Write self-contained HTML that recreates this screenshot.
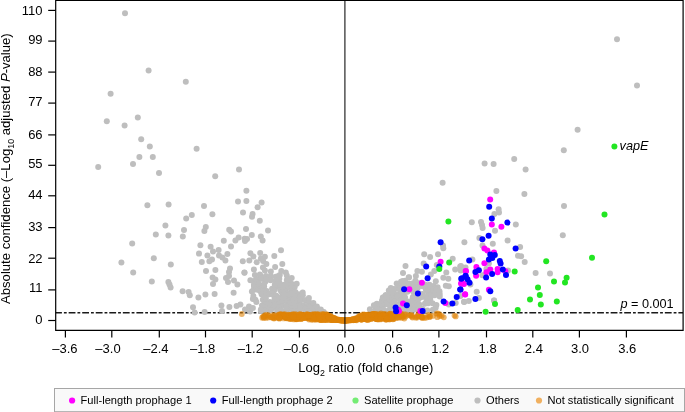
<!DOCTYPE html>
<html><head><meta charset="utf-8"><title>Volcano plot</title>
<style>
html,body{margin:0;padding:0;background:#fff;}
body{width:685px;height:412px;overflow:hidden;position:relative;font-family:"Liberation Sans",Arial,Helvetica,sans-serif;color:#000;}
svg{position:absolute;left:0;top:0;display:block;}
text{font-family:"Liberation Sans",Arial,Helvetica,sans-serif;fill:#000;}
.t{font-size:13px;}
.ax{font-size:13px;}
.an{font-size:12.7px;}
.lg{font-size:11.1px;}
</style></head><body>
<svg width="685" height="412" viewBox="0 0 685 412">
<rect x="0" y="0" width="685" height="412" fill="#fff"/>

<path d="M55.7 312.75 H683" stroke="#1a1a1a" stroke-width="1.6" fill="none" stroke-dasharray="6.8 2 2.8 1.95" stroke-dashoffset="0.6"/>
<g fill="#bebebe"><circle cx="254.4" cy="287.9" r="3.0"/><circle cx="258.7" cy="287.2" r="3.0"/><circle cx="261.9" cy="286.3" r="3.0"/><circle cx="264.1" cy="286.4" r="3.0"/><circle cx="272.1" cy="288.7" r="3.0"/><circle cx="274.8" cy="288.7" r="3.0"/><circle cx="279.3" cy="287.0" r="3.0"/><circle cx="280.7" cy="287.0" r="3.0"/><circle cx="284.2" cy="287.7" r="3.0"/><circle cx="288.0" cy="287.6" r="3.0"/><circle cx="290.5" cy="286.7" r="3.0"/><circle cx="294.7" cy="287.0" r="3.0"/><circle cx="253.5" cy="289.9" r="3.0"/><circle cx="257.5" cy="289.7" r="3.0"/><circle cx="260.3" cy="291.3" r="3.0"/><circle cx="263.0" cy="291.6" r="3.0"/><circle cx="266.6" cy="291.0" r="3.0"/><circle cx="274.1" cy="290.6" r="3.0"/><circle cx="280.3" cy="290.3" r="3.0"/><circle cx="284.5" cy="290.3" r="3.0"/><circle cx="285.5" cy="290.9" r="3.0"/><circle cx="291.2" cy="291.2" r="3.0"/><circle cx="293.0" cy="290.8" r="3.0"/><circle cx="261.6" cy="294.2" r="3.0"/><circle cx="265.1" cy="293.4" r="3.0"/><circle cx="269.3" cy="294.2" r="3.0"/><circle cx="271.6" cy="292.9" r="3.0"/><circle cx="281.9" cy="292.6" r="3.0"/><circle cx="288.0" cy="293.4" r="3.0"/><circle cx="292.1" cy="293.3" r="3.0"/><circle cx="295.4" cy="292.1" r="3.0"/><circle cx="298.9" cy="294.2" r="3.0"/><circle cx="253.4" cy="295.9" r="3.0"/><circle cx="262.4" cy="294.8" r="3.0"/><circle cx="265.8" cy="295.8" r="3.0"/><circle cx="273.7" cy="295.2" r="3.0"/><circle cx="276.4" cy="295.8" r="3.0"/><circle cx="281.0" cy="297.4" r="3.0"/><circle cx="283.3" cy="295.0" r="3.0"/><circle cx="286.2" cy="295.5" r="3.0"/><circle cx="289.1" cy="294.9" r="3.0"/><circle cx="293.3" cy="295.2" r="3.0"/><circle cx="295.3" cy="296.2" r="3.0"/><circle cx="300.8" cy="296.6" r="3.0"/><circle cx="302.8" cy="295.2" r="3.0"/><circle cx="255.4" cy="299.7" r="3.0"/><circle cx="262.8" cy="299.8" r="3.0"/><circle cx="265.8" cy="298.3" r="3.0"/><circle cx="274.5" cy="299.5" r="3.0"/><circle cx="278.3" cy="300.1" r="3.0"/><circle cx="282.9" cy="298.6" r="3.0"/><circle cx="284.3" cy="298.2" r="3.0"/><circle cx="288.6" cy="300.0" r="3.0"/><circle cx="291.5" cy="299.4" r="3.0"/><circle cx="293.8" cy="299.4" r="3.0"/><circle cx="298.9" cy="299.6" r="3.0"/><circle cx="300.7" cy="299.7" r="3.0"/><circle cx="305.6" cy="300.2" r="3.0"/><circle cx="264.6" cy="302.7" r="3.0"/><circle cx="267.7" cy="303.1" r="3.0"/><circle cx="269.8" cy="302.0" r="3.0"/><circle cx="272.2" cy="303.1" r="3.0"/><circle cx="276.8" cy="303.0" r="3.0"/><circle cx="281.0" cy="302.7" r="3.0"/><circle cx="282.7" cy="301.3" r="3.0"/><circle cx="286.9" cy="301.2" r="3.0"/><circle cx="289.0" cy="302.9" r="3.0"/><circle cx="293.1" cy="302.1" r="3.0"/><circle cx="296.3" cy="302.9" r="3.0"/><circle cx="299.9" cy="301.9" r="3.0"/><circle cx="305.6" cy="300.6" r="3.0"/><circle cx="308.9" cy="301.8" r="3.0"/><circle cx="262.0" cy="305.5" r="3.0"/><circle cx="265.4" cy="304.1" r="3.0"/><circle cx="269.2" cy="304.7" r="3.0"/><circle cx="272.5" cy="305.8" r="3.0"/><circle cx="275.4" cy="304.7" r="3.0"/><circle cx="278.9" cy="304.6" r="3.0"/><circle cx="281.6" cy="305.9" r="3.0"/><circle cx="286.0" cy="305.9" r="3.0"/><circle cx="288.5" cy="305.9" r="3.0"/><circle cx="290.7" cy="303.7" r="3.0"/><circle cx="293.8" cy="304.1" r="3.0"/><circle cx="298.6" cy="305.5" r="3.0"/><circle cx="300.6" cy="305.3" r="3.0"/><circle cx="303.9" cy="305.7" r="3.0"/><circle cx="307.4" cy="305.9" r="3.0"/><circle cx="311.4" cy="306.0" r="3.0"/><circle cx="263.1" cy="306.8" r="3.0"/><circle cx="267.4" cy="306.3" r="3.0"/><circle cx="270.0" cy="306.3" r="3.0"/><circle cx="273.8" cy="307.6" r="3.0"/><circle cx="278.0" cy="308.3" r="3.0"/><circle cx="279.0" cy="307.0" r="3.0"/><circle cx="286.1" cy="306.6" r="3.0"/><circle cx="291.0" cy="308.4" r="3.0"/><circle cx="292.3" cy="308.7" r="3.0"/><circle cx="297.1" cy="306.5" r="3.0"/><circle cx="300.3" cy="307.4" r="3.0"/><circle cx="304.3" cy="307.9" r="3.0"/><circle cx="305.4" cy="308.5" r="3.0"/><circle cx="310.7" cy="307.5" r="3.0"/><circle cx="313.2" cy="308.7" r="3.0"/><circle cx="315.4" cy="307.7" r="3.0"/><circle cx="260.9" cy="309.6" r="3.0"/><circle cx="264.4" cy="310.0" r="3.0"/><circle cx="269.2" cy="309.9" r="3.0"/><circle cx="271.0" cy="310.1" r="3.0"/><circle cx="277.1" cy="311.1" r="3.0"/><circle cx="280.9" cy="310.4" r="3.0"/><circle cx="284.0" cy="311.3" r="3.0"/><circle cx="288.3" cy="311.3" r="3.0"/><circle cx="291.6" cy="311.0" r="3.0"/><circle cx="294.5" cy="311.3" r="3.0"/><circle cx="298.6" cy="310.2" r="3.0"/><circle cx="300.3" cy="309.5" r="3.0"/><circle cx="305.4" cy="309.8" r="3.0"/><circle cx="307.0" cy="311.4" r="3.0"/><circle cx="311.8" cy="309.9" r="3.0"/><circle cx="314.2" cy="310.4" r="3.0"/><circle cx="317.9" cy="309.9" r="3.0"/><circle cx="403.6" cy="284.5" r="3.0"/><circle cx="406.9" cy="283.9" r="3.0"/><circle cx="407.7" cy="284.1" r="3.0"/><circle cx="412.3" cy="283.6" r="3.0"/><circle cx="414.3" cy="283.8" r="3.0"/><circle cx="418.6" cy="283.2" r="3.0"/><circle cx="424.8" cy="284.6" r="3.0"/><circle cx="429.4" cy="284.8" r="3.0"/><circle cx="398.4" cy="287.0" r="3.0"/><circle cx="402.0" cy="286.3" r="3.0"/><circle cx="404.4" cy="286.1" r="3.0"/><circle cx="408.3" cy="287.6" r="3.0"/><circle cx="411.4" cy="286.3" r="3.0"/><circle cx="413.9" cy="288.1" r="3.0"/><circle cx="418.0" cy="287.5" r="3.0"/><circle cx="422.6" cy="286.3" r="3.0"/><circle cx="426.1" cy="288.1" r="3.0"/><circle cx="430.7" cy="287.6" r="3.0"/><circle cx="433.7" cy="286.0" r="3.0"/><circle cx="437.6" cy="287.2" r="3.0"/><circle cx="392.9" cy="289.0" r="3.0"/><circle cx="395.1" cy="289.0" r="3.0"/><circle cx="399.6" cy="289.3" r="3.0"/><circle cx="403.6" cy="290.1" r="3.0"/><circle cx="405.6" cy="290.6" r="3.0"/><circle cx="409.3" cy="290.5" r="3.0"/><circle cx="411.3" cy="289.5" r="3.0"/><circle cx="415.0" cy="290.3" r="3.0"/><circle cx="425.9" cy="289.6" r="3.0"/><circle cx="428.7" cy="290.0" r="3.0"/><circle cx="433.1" cy="289.3" r="3.0"/><circle cx="436.5" cy="288.9" r="3.0"/><circle cx="439.5" cy="291.3" r="3.0"/><circle cx="390.2" cy="292.2" r="3.0"/><circle cx="393.3" cy="293.2" r="3.0"/><circle cx="397.5" cy="294.2" r="3.0"/><circle cx="401.5" cy="293.0" r="3.0"/><circle cx="404.5" cy="292.3" r="3.0"/><circle cx="407.3" cy="291.7" r="3.0"/><circle cx="413.8" cy="292.5" r="3.0"/><circle cx="416.8" cy="292.5" r="3.0"/><circle cx="419.2" cy="293.6" r="3.0"/><circle cx="422.8" cy="294.1" r="3.0"/><circle cx="428.1" cy="292.4" r="3.0"/><circle cx="430.1" cy="294.3" r="3.0"/><circle cx="433.3" cy="292.8" r="3.0"/><circle cx="435.8" cy="291.9" r="3.0"/><circle cx="439.7" cy="294.1" r="3.0"/><circle cx="385.2" cy="295.9" r="3.0"/><circle cx="388.8" cy="297.0" r="3.0"/><circle cx="393.3" cy="296.2" r="3.0"/><circle cx="396.9" cy="296.0" r="3.0"/><circle cx="397.9" cy="296.5" r="3.0"/><circle cx="403.0" cy="296.2" r="3.0"/><circle cx="404.5" cy="297.0" r="3.0"/><circle cx="412.9" cy="297.1" r="3.0"/><circle cx="416.0" cy="295.3" r="3.0"/><circle cx="418.6" cy="295.0" r="3.0"/><circle cx="421.4" cy="296.9" r="3.0"/><circle cx="424.7" cy="296.9" r="3.0"/><circle cx="428.6" cy="294.9" r="3.0"/><circle cx="431.0" cy="295.4" r="3.0"/><circle cx="434.7" cy="295.2" r="3.0"/><circle cx="439.7" cy="296.5" r="3.0"/><circle cx="384.0" cy="298.8" r="3.0"/><circle cx="387.1" cy="297.6" r="3.0"/><circle cx="392.0" cy="297.8" r="3.0"/><circle cx="394.4" cy="299.7" r="3.0"/><circle cx="396.8" cy="298.1" r="3.0"/><circle cx="400.6" cy="299.9" r="3.0"/><circle cx="405.0" cy="297.5" r="3.0"/><circle cx="412.6" cy="298.4" r="3.0"/><circle cx="418.0" cy="299.7" r="3.0"/><circle cx="419.8" cy="297.7" r="3.0"/><circle cx="427.7" cy="299.1" r="3.0"/><circle cx="430.3" cy="298.9" r="3.0"/><circle cx="382.0" cy="300.6" r="3.0"/><circle cx="386.2" cy="302.1" r="3.0"/><circle cx="388.0" cy="301.7" r="3.0"/><circle cx="392.2" cy="300.9" r="3.0"/><circle cx="394.5" cy="301.1" r="3.0"/><circle cx="400.2" cy="302.0" r="3.0"/><circle cx="402.3" cy="300.9" r="3.0"/><circle cx="406.8" cy="302.1" r="3.0"/><circle cx="407.7" cy="301.6" r="3.0"/><circle cx="412.0" cy="301.0" r="3.0"/><circle cx="416.7" cy="300.9" r="3.0"/><circle cx="426.2" cy="302.2" r="3.0"/><circle cx="428.0" cy="302.8" r="3.0"/><circle cx="377.4" cy="304.9" r="3.0"/><circle cx="380.0" cy="304.2" r="3.0"/><circle cx="385.4" cy="303.5" r="3.0"/><circle cx="386.4" cy="304.2" r="3.0"/><circle cx="391.8" cy="305.1" r="3.0"/><circle cx="395.2" cy="304.0" r="3.0"/><circle cx="398.5" cy="305.1" r="3.0"/><circle cx="403.7" cy="304.1" r="3.0"/><circle cx="406.4" cy="303.2" r="3.0"/><circle cx="410.2" cy="305.7" r="3.0"/><circle cx="415.1" cy="303.7" r="3.0"/><circle cx="418.0" cy="305.3" r="3.0"/><circle cx="419.3" cy="304.4" r="3.0"/><circle cx="424.9" cy="303.7" r="3.0"/><circle cx="428.1" cy="303.2" r="3.0"/><circle cx="432.5" cy="303.3" r="3.0"/><circle cx="436.4" cy="305.1" r="3.0"/><circle cx="375.5" cy="306.7" r="3.0"/><circle cx="379.6" cy="306.7" r="3.0"/><circle cx="382.1" cy="306.8" r="3.0"/><circle cx="390.2" cy="307.7" r="3.0"/><circle cx="391.2" cy="306.6" r="3.0"/><circle cx="396.9" cy="308.5" r="3.0"/><circle cx="398.4" cy="307.2" r="3.0"/><circle cx="403.5" cy="306.5" r="3.0"/><circle cx="406.3" cy="308.2" r="3.0"/><circle cx="409.2" cy="306.9" r="3.0"/><circle cx="411.9" cy="308.1" r="3.0"/><circle cx="414.8" cy="308.0" r="3.0"/><circle cx="417.7" cy="306.1" r="3.0"/><circle cx="421.7" cy="308.6" r="3.0"/><circle cx="435.7" cy="307.8" r="3.0"/><circle cx="375.2" cy="310.6" r="3.0"/><circle cx="378.5" cy="309.7" r="3.0"/><circle cx="380.6" cy="310.8" r="3.0"/><circle cx="383.5" cy="309.5" r="3.0"/><circle cx="388.5" cy="310.4" r="3.0"/><circle cx="390.5" cy="311.5" r="3.0"/><circle cx="393.4" cy="311.0" r="3.0"/><circle cx="398.7" cy="309.2" r="3.0"/><circle cx="401.5" cy="311.1" r="3.0"/><circle cx="402.8" cy="309.7" r="3.0"/><circle cx="406.5" cy="311.4" r="3.0"/><circle cx="411.7" cy="309.9" r="3.0"/><circle cx="413.8" cy="309.6" r="3.0"/><circle cx="418.4" cy="309.2" r="3.0"/><circle cx="420.8" cy="309.5" r="3.0"/><circle cx="422.9" cy="309.4" r="3.0"/><circle cx="427.4" cy="310.6" r="3.0"/><circle cx="432.9" cy="309.7" r="3.0"/><circle cx="260.3" cy="275.7" r="3.0"/><circle cx="267.6" cy="277.4" r="3.0"/><circle cx="277.9" cy="276.3" r="3.0"/><circle cx="254.5" cy="281.2" r="3.0"/><circle cx="258.0" cy="279.2" r="3.0"/><circle cx="261.1" cy="278.6" r="3.0"/><circle cx="265.4" cy="281.1" r="3.0"/><circle cx="270.3" cy="280.0" r="3.0"/><circle cx="286.8" cy="280.1" r="3.0"/><circle cx="265.1" cy="282.1" r="3.0"/><circle cx="279.6" cy="283.2" r="3.0"/><circle cx="285.1" cy="284.5" r="3.0"/><circle cx="290.0" cy="282.2" r="3.0"/><circle cx="254.0" cy="286.1" r="3.0"/><circle cx="259.4" cy="285.4" r="3.0"/><circle cx="277.6" cy="285.0" r="3.0"/><circle cx="280.8" cy="285.0" r="3.0"/><circle cx="282.5" cy="286.7" r="3.0"/><circle cx="287.6" cy="285.8" r="3.0"/><circle cx="291.0" cy="286.2" r="3.0"/><circle cx="125.0" cy="13.2" r="3.0"/><circle cx="148.6" cy="70.6" r="3.0"/><circle cx="185.8" cy="81.8" r="3.0"/><circle cx="110.6" cy="93.8" r="3.0"/><circle cx="106.8" cy="121.2" r="3.0"/><circle cx="124.6" cy="125.6" r="3.0"/><circle cx="137.8" cy="117.6" r="3.0"/><circle cx="141.2" cy="139.2" r="3.0"/><circle cx="149.8" cy="146.6" r="3.0"/><circle cx="139.4" cy="157.0" r="3.0"/><circle cx="152.8" cy="157.0" r="3.0"/><circle cx="133.0" cy="164.0" r="3.0"/><circle cx="98.2" cy="167.0" r="3.0"/><circle cx="159.0" cy="173.0" r="3.0"/><circle cx="147.4" cy="205.2" r="3.0"/><circle cx="168.6" cy="204.6" r="3.0"/><circle cx="191.8" cy="215.0" r="3.0"/><circle cx="186.2" cy="218.6" r="3.0"/><circle cx="165.4" cy="225.4" r="3.0"/><circle cx="184.0" cy="230.0" r="3.0"/><circle cx="155.8" cy="234.4" r="3.0"/><circle cx="168.4" cy="235.6" r="3.0"/><circle cx="182.8" cy="236.4" r="3.0"/><circle cx="132.2" cy="243.6" r="3.0"/><circle cx="121.4" cy="262.6" r="3.0"/><circle cx="133.2" cy="272.6" r="3.0"/><circle cx="153.8" cy="258.2" r="3.0"/><circle cx="170.8" cy="264.4" r="3.0"/><circle cx="151.8" cy="281.6" r="3.0"/><circle cx="168.4" cy="282.0" r="3.0"/><circle cx="169.5" cy="284.4" r="3.0"/><circle cx="170.6" cy="287.4" r="3.0"/><circle cx="182.6" cy="291.2" r="3.0"/><circle cx="188.6" cy="292.0" r="3.0"/><circle cx="189.8" cy="295.2" r="3.0"/><circle cx="193.0" cy="307.2" r="3.0"/><circle cx="196.6" cy="148.8" r="3.0"/><circle cx="239.0" cy="169.6" r="3.0"/><circle cx="215.2" cy="176.2" r="3.0"/><circle cx="246.4" cy="190.8" r="3.0"/><circle cx="238.0" cy="201.6" r="3.0"/><circle cx="246.4" cy="201.0" r="3.0"/><circle cx="261.6" cy="202.4" r="3.0"/><circle cx="257.6" cy="207.2" r="3.0"/><circle cx="204.0" cy="206.0" r="3.0"/><circle cx="212.4" cy="214.2" r="3.0"/><circle cx="243.0" cy="212.6" r="3.0"/><circle cx="252.6" cy="214.0" r="3.0"/><circle cx="252.0" cy="216.8" r="3.0"/><circle cx="259.8" cy="220.8" r="3.0"/><circle cx="205.8" cy="227.0" r="3.0"/><circle cx="204.4" cy="231.0" r="3.0"/><circle cx="229.2" cy="229.8" r="3.0"/><circle cx="231.0" cy="231.4" r="3.0"/><circle cx="246.0" cy="229.0" r="3.0"/><circle cx="268.0" cy="230.4" r="3.0"/><circle cx="251.8" cy="235.0" r="3.0"/><circle cx="260.8" cy="236.6" r="3.0"/><circle cx="262.6" cy="240.6" r="3.0"/><circle cx="238.6" cy="237.6" r="3.0"/><circle cx="235.4" cy="240.4" r="3.0"/><circle cx="244.6" cy="238.8" r="3.0"/><circle cx="247.0" cy="239.0" r="3.0"/><circle cx="245.0" cy="241.0" r="3.0"/><circle cx="223.8" cy="240.8" r="3.0"/><circle cx="200.4" cy="245.2" r="3.0"/><circle cx="210.6" cy="246.8" r="3.0"/><circle cx="231.0" cy="246.6" r="3.0"/><circle cx="199.0" cy="253.6" r="3.0"/><circle cx="207.4" cy="255.4" r="3.0"/><circle cx="213.0" cy="251.6" r="3.0"/><circle cx="218.6" cy="250.0" r="3.0"/><circle cx="219.0" cy="255.4" r="3.0"/><circle cx="212.0" cy="259.6" r="3.0"/><circle cx="209.4" cy="261.2" r="3.0"/><circle cx="201.8" cy="262.0" r="3.0"/><circle cx="227.4" cy="254.0" r="3.0"/><circle cx="222.4" cy="257.4" r="3.0"/><circle cx="225.4" cy="260.4" r="3.0"/><circle cx="206.0" cy="271.0" r="3.0"/><circle cx="215.4" cy="270.0" r="3.0"/><circle cx="212.6" cy="277.4" r="3.0"/><circle cx="215.4" cy="279.6" r="3.0"/><circle cx="213.0" cy="284.0" r="3.0"/><circle cx="230.0" cy="268.4" r="3.0"/><circle cx="229.0" cy="272.0" r="3.0"/><circle cx="226.0" cy="278.0" r="3.0"/><circle cx="229.0" cy="276.0" r="3.0"/><circle cx="228.0" cy="282.0" r="3.0"/><circle cx="234.0" cy="280.4" r="3.0"/><circle cx="237.4" cy="284.4" r="3.0"/><circle cx="233.6" cy="292.8" r="3.0"/><circle cx="205.4" cy="294.4" r="3.0"/><circle cx="214.6" cy="294.0" r="3.0"/><circle cx="198.4" cy="297.6" r="3.0"/><circle cx="194.6" cy="312.6" r="3.0"/><circle cx="204.6" cy="312.0" r="3.0"/><circle cx="221.4" cy="305.6" r="3.0"/><circle cx="222.0" cy="311.0" r="3.0"/><circle cx="229.4" cy="307.0" r="3.0"/><circle cx="236.6" cy="306.0" r="3.0"/><circle cx="240.4" cy="304.4" r="3.0"/><circle cx="244.4" cy="272.6" r="3.0"/><circle cx="281.0" cy="250.3" r="3.0"/><circle cx="250.4" cy="253.2" r="3.0"/><circle cx="253.4" cy="256.4" r="3.0"/><circle cx="260.2" cy="253.0" r="3.0"/><circle cx="264.9" cy="256.7" r="3.0"/><circle cx="274.3" cy="256.0" r="3.0"/><circle cx="260.9" cy="258.4" r="3.0"/><circle cx="242.8" cy="261.2" r="3.0"/><circle cx="249.3" cy="260.6" r="3.0"/><circle cx="256.7" cy="262.2" r="3.0"/><circle cx="263.1" cy="260.9" r="3.0"/><circle cx="266.4" cy="264.1" r="3.0"/><circle cx="282.3" cy="263.9" r="3.0"/><circle cx="275.1" cy="266.9" r="3.0"/><circle cx="262.9" cy="267.4" r="3.0"/><circle cx="253.9" cy="269.4" r="3.0"/><circle cx="264.9" cy="270.4" r="3.0"/><circle cx="270.8" cy="271.4" r="3.0"/><circle cx="244.5" cy="272.7" r="3.0"/><circle cx="281.3" cy="270.9" r="3.0"/><circle cx="285.8" cy="272.4" r="3.0"/><circle cx="286.8" cy="275.4" r="3.0"/><circle cx="254.9" cy="274.9" r="3.0"/><circle cx="259.9" cy="274.4" r="3.0"/><circle cx="265.9" cy="275.9" r="3.0"/><circle cx="270.8" cy="275.9" r="3.0"/><circle cx="275.8" cy="276.8" r="3.0"/><circle cx="279.8" cy="274.9" r="3.0"/><circle cx="291.7" cy="278.0" r="3.0"/><circle cx="250.4" cy="280.3" r="3.0"/><circle cx="255.9" cy="279.8" r="3.0"/><circle cx="260.9" cy="278.8" r="3.0"/><circle cx="265.9" cy="279.8" r="3.0"/><circle cx="270.8" cy="280.3" r="3.0"/><circle cx="275.8" cy="280.8" r="3.0"/><circle cx="279.3" cy="278.8" r="3.0"/><circle cx="287.8" cy="279.8" r="3.0"/><circle cx="292.7" cy="284.3" r="3.0"/><circle cx="296.7" cy="283.8" r="3.0"/><circle cx="253.9" cy="284.8" r="3.0"/><circle cx="258.9" cy="283.8" r="3.0"/><circle cx="263.9" cy="284.8" r="3.0"/><circle cx="274.8" cy="284.8" r="3.0"/><circle cx="279.8" cy="284.3" r="3.0"/><circle cx="284.8" cy="284.8" r="3.0"/><circle cx="251.9" cy="291.5" r="3.0"/><circle cx="252.9" cy="298.9" r="3.0"/><circle cx="256.4" cy="301.9" r="3.0"/><circle cx="249.0" cy="306.4" r="3.0"/><circle cx="245.0" cy="309.4" r="3.0"/><circle cx="250.0" cy="311.4" r="3.0"/><circle cx="260.9" cy="310.9" r="3.0"/><circle cx="252.9" cy="307.9" r="3.0"/><circle cx="302.7" cy="292.5" r="3.0"/><circle cx="308.9" cy="297.9" r="3.0"/><circle cx="313.4" cy="302.9" r="3.0"/><circle cx="316.9" cy="306.4" r="3.0"/><circle cx="320.8" cy="309.4" r="3.0"/><circle cx="323.8" cy="311.9" r="3.0"/><circle cx="442.6" cy="182.8" r="3.0"/><circle cx="464.4" cy="242.2" r="3.0"/><circle cx="443.0" cy="245.6" r="3.0"/><circle cx="443.3" cy="248.2" r="3.0"/><circle cx="424.2" cy="254.2" r="3.0"/><circle cx="430.1" cy="256.9" r="3.0"/><circle cx="438.0" cy="254.2" r="3.0"/><circle cx="452.7" cy="258.7" r="3.0"/><circle cx="423.7" cy="263.4" r="3.0"/><circle cx="436.8" cy="264.9" r="3.0"/><circle cx="405.5" cy="265.9" r="3.0"/><circle cx="403.0" cy="273.1" r="3.0"/><circle cx="417.4" cy="270.9" r="3.0"/><circle cx="421.9" cy="271.7" r="3.0"/><circle cx="415.9" cy="275.9" r="3.0"/><circle cx="409.0" cy="277.3" r="3.0"/><circle cx="434.3" cy="270.9" r="3.0"/><circle cx="430.8" cy="274.4" r="3.0"/><circle cx="446.3" cy="272.4" r="3.0"/><circle cx="443.3" cy="277.8" r="3.0"/><circle cx="448.3" cy="278.8" r="3.0"/><circle cx="455.2" cy="269.4" r="3.0"/><circle cx="460.2" cy="266.4" r="3.0"/><circle cx="460.7" cy="270.4" r="3.0"/><circle cx="464.2" cy="267.9" r="3.0"/><circle cx="435.8" cy="281.3" r="3.0"/><circle cx="429.8" cy="285.3" r="3.0"/><circle cx="415.4" cy="280.8" r="3.0"/><circle cx="405.0" cy="280.8" r="3.0"/><circle cx="401.0" cy="281.8" r="3.0"/><circle cx="409.0" cy="283.8" r="3.0"/><circle cx="445.8" cy="285.8" r="3.0"/><circle cx="448.8" cy="286.3" r="3.0"/><circle cx="464.2" cy="301.9" r="3.0"/><circle cx="455.7" cy="302.9" r="3.0"/><circle cx="448.8" cy="304.4" r="3.0"/><circle cx="408.7" cy="277.5" r="3.0"/><circle cx="402.7" cy="280.9" r="3.0"/><circle cx="396.7" cy="283.4" r="3.0"/><circle cx="390.8" cy="287.9" r="3.0"/><circle cx="388.8" cy="290.4" r="3.0"/><circle cx="382.8" cy="297.4" r="3.0"/><circle cx="385.8" cy="294.9" r="3.0"/><circle cx="376.8" cy="303.8" r="3.0"/><circle cx="373.9" cy="305.3" r="3.0"/><circle cx="369.9" cy="309.3" r="3.0"/><circle cx="577.6" cy="129.8" r="3.0"/><circle cx="563.8" cy="150.2" r="3.0"/><circle cx="514.2" cy="159.0" r="3.0"/><circle cx="484.6" cy="163.5" r="3.0"/><circle cx="493.6" cy="164.0" r="3.0"/><circle cx="525.6" cy="169.4" r="3.0"/><circle cx="496.4" cy="191.0" r="3.0"/><circle cx="524.4" cy="194.0" r="3.0"/><circle cx="498.6" cy="209.2" r="3.0"/><circle cx="499.0" cy="212.6" r="3.0"/><circle cx="494.4" cy="214.0" r="3.0"/><circle cx="564.0" cy="206.0" r="3.0"/><circle cx="515.8" cy="224.6" r="3.0"/><circle cx="471.8" cy="222.2" r="3.0"/><circle cx="481.0" cy="222.0" r="3.0"/><circle cx="482.0" cy="225.0" r="3.0"/><circle cx="482.6" cy="228.0" r="3.0"/><circle cx="495.0" cy="230.8" r="3.0"/><circle cx="479.4" cy="238.0" r="3.0"/><circle cx="507.6" cy="240.4" r="3.0"/><circle cx="562.8" cy="235.3" r="3.0"/><circle cx="492.8" cy="243.7" r="3.0"/><circle cx="482.5" cy="245.5" r="3.0"/><circle cx="520.1" cy="247.0" r="3.0"/><circle cx="535.6" cy="273.0" r="3.0"/><circle cx="550.0" cy="273.4" r="3.0"/><circle cx="494.0" cy="300.4" r="3.0"/><circle cx="518.0" cy="255.7" r="3.0"/><circle cx="521.1" cy="256.2" r="3.0"/><circle cx="524.7" cy="262.0" r="3.0"/><circle cx="508.0" cy="270.6" r="3.0"/><circle cx="472.4" cy="259.4" r="3.0"/><circle cx="488.9" cy="263.4" r="3.0"/><circle cx="461.0" cy="265.9" r="3.0"/><circle cx="465.5" cy="267.4" r="3.0"/><circle cx="461.0" cy="269.9" r="3.0"/><circle cx="486.4" cy="268.9" r="3.0"/><circle cx="482.4" cy="275.3" r="3.0"/><circle cx="470.4" cy="284.5" r="3.0"/><circle cx="460.5" cy="295.9" r="3.0"/><circle cx="476.7" cy="291.7" r="3.0"/><circle cx="478.9" cy="297.9" r="3.0"/><circle cx="464.0" cy="301.7" r="3.0"/><circle cx="468.8" cy="300.9" r="3.0"/><circle cx="494.1" cy="300.4" r="3.0"/><circle cx="617.0" cy="39.2" r="3.0"/><circle cx="637.0" cy="85.4" r="3.0"/></g>
<g fill="#e08408" fill-opacity="0.6"><circle cx="380.3" cy="316.3" r="2.9"/><circle cx="349.6" cy="320.3" r="2.9"/><circle cx="293.5" cy="314.7" r="2.9"/><circle cx="284.3" cy="314.6" r="2.9"/><circle cx="341.0" cy="320.2" r="2.9"/><circle cx="376.2" cy="318.2" r="2.9"/><circle cx="329.4" cy="315.9" r="2.9"/><circle cx="296.1" cy="316.8" r="2.9"/><circle cx="290.9" cy="319.0" r="2.9"/><circle cx="272.9" cy="317.4" r="2.9"/><circle cx="289.7" cy="315.5" r="2.9"/><circle cx="351.9" cy="319.6" r="2.9"/><circle cx="308.6" cy="315.9" r="2.9"/><circle cx="267.7" cy="314.8" r="2.9"/><circle cx="403.1" cy="316.5" r="2.9"/><circle cx="376.2" cy="319.1" r="2.9"/><circle cx="361.5" cy="319.5" r="2.9"/><circle cx="375.0" cy="318.6" r="2.9"/><circle cx="308.9" cy="317.4" r="2.9"/><circle cx="326.2" cy="316.8" r="2.9"/><circle cx="293.0" cy="314.4" r="2.9"/><circle cx="376.7" cy="317.2" r="2.9"/><circle cx="381.1" cy="313.5" r="2.9"/><circle cx="267.1" cy="316.7" r="2.9"/><circle cx="339.2" cy="320.3" r="2.9"/><circle cx="284.9" cy="317.3" r="2.9"/><circle cx="265.0" cy="315.5" r="2.9"/><circle cx="280.3" cy="315.2" r="2.9"/><circle cx="366.6" cy="314.8" r="2.9"/><circle cx="373.9" cy="314.4" r="2.9"/><circle cx="288.0" cy="317.4" r="2.9"/><circle cx="333.8" cy="317.8" r="2.9"/><circle cx="377.7" cy="315.7" r="2.9"/><circle cx="377.9" cy="319.5" r="2.9"/><circle cx="393.8" cy="319.0" r="2.9"/><circle cx="334.5" cy="318.2" r="2.9"/><circle cx="402.0" cy="316.6" r="2.9"/><circle cx="297.1" cy="316.9" r="2.9"/><circle cx="377.1" cy="314.6" r="2.9"/><circle cx="317.0" cy="314.4" r="2.9"/><circle cx="390.5" cy="318.6" r="2.9"/><circle cx="395.9" cy="317.9" r="2.9"/><circle cx="342.9" cy="320.4" r="2.9"/><circle cx="303.0" cy="316.0" r="2.9"/><circle cx="309.1" cy="316.6" r="2.9"/><circle cx="309.0" cy="319.6" r="2.9"/><circle cx="300.3" cy="314.2" r="2.9"/><circle cx="308.1" cy="318.3" r="2.9"/><circle cx="320.2" cy="316.0" r="2.9"/><circle cx="304.3" cy="317.6" r="2.9"/><circle cx="386.4" cy="319.6" r="2.9"/><circle cx="346.0" cy="320.5" r="2.9"/><circle cx="392.2" cy="315.4" r="2.9"/><circle cx="299.4" cy="314.5" r="2.9"/><circle cx="265.9" cy="317.9" r="2.9"/><circle cx="323.4" cy="314.3" r="2.9"/><circle cx="375.7" cy="318.2" r="2.9"/><circle cx="326.8" cy="319.1" r="2.9"/><circle cx="422.3" cy="317.6" r="2.9"/><circle cx="280.4" cy="314.6" r="2.9"/><circle cx="313.0" cy="314.7" r="2.9"/><circle cx="398.1" cy="315.4" r="2.9"/><circle cx="337.7" cy="319.6" r="2.9"/><circle cx="312.1" cy="316.2" r="2.9"/><circle cx="319.1" cy="317.1" r="2.9"/><circle cx="340.0" cy="320.1" r="2.9"/><circle cx="388.5" cy="314.8" r="2.9"/><circle cx="417.1" cy="317.6" r="2.9"/><circle cx="291.8" cy="315.2" r="2.9"/><circle cx="350.0" cy="320.0" r="2.9"/><circle cx="350.5" cy="320.3" r="2.9"/><circle cx="308.2" cy="315.7" r="2.9"/><circle cx="299.9" cy="316.8" r="2.9"/><circle cx="280.9" cy="314.5" r="2.9"/><circle cx="325.4" cy="316.5" r="2.9"/><circle cx="422.2" cy="317.7" r="2.9"/><circle cx="265.6" cy="315.2" r="2.9"/><circle cx="329.7" cy="316.5" r="2.9"/><circle cx="344.4" cy="320.5" r="2.9"/><circle cx="324.1" cy="315.0" r="2.9"/><circle cx="395.3" cy="316.1" r="2.9"/><circle cx="283.8" cy="318.4" r="2.9"/><circle cx="304.1" cy="315.8" r="2.9"/><circle cx="289.0" cy="315.4" r="2.9"/><circle cx="320.1" cy="315.1" r="2.9"/><circle cx="320.4" cy="319.9" r="2.9"/><circle cx="392.9" cy="319.3" r="2.9"/><circle cx="279.4" cy="318.7" r="2.9"/><circle cx="339.7" cy="320.2" r="2.9"/><circle cx="280.3" cy="315.9" r="2.9"/><circle cx="351.6" cy="319.9" r="2.9"/><circle cx="286.7" cy="316.1" r="2.9"/><circle cx="338.8" cy="320.2" r="2.9"/><circle cx="337.2" cy="320.0" r="2.9"/><circle cx="384.0" cy="316.3" r="2.9"/><circle cx="317.7" cy="314.7" r="2.9"/><circle cx="336.9" cy="320.0" r="2.9"/><circle cx="375.0" cy="316.2" r="2.9"/><circle cx="343.4" cy="320.5" r="2.9"/><circle cx="294.1" cy="318.3" r="2.9"/><circle cx="331.4" cy="320.1" r="2.9"/><circle cx="290.1" cy="319.0" r="2.9"/><circle cx="355.0" cy="319.4" r="2.9"/><circle cx="358.9" cy="318.2" r="2.9"/><circle cx="376.7" cy="316.8" r="2.9"/><circle cx="335.3" cy="318.9" r="2.9"/><circle cx="384.9" cy="318.2" r="2.9"/><circle cx="283.2" cy="315.8" r="2.9"/><circle cx="333.3" cy="318.7" r="2.9"/><circle cx="337.1" cy="319.6" r="2.9"/><circle cx="309.0" cy="318.3" r="2.9"/><circle cx="300.6" cy="316.3" r="2.9"/><circle cx="299.4" cy="318.4" r="2.9"/><circle cx="345.9" cy="320.5" r="2.9"/><circle cx="376.6" cy="318.7" r="2.9"/><circle cx="345.7" cy="320.5" r="2.9"/><circle cx="283.7" cy="315.8" r="2.9"/><circle cx="329.1" cy="317.2" r="2.9"/><circle cx="294.6" cy="318.0" r="2.9"/><circle cx="311.9" cy="315.8" r="2.9"/><circle cx="347.8" cy="320.4" r="2.9"/><circle cx="380.3" cy="319.4" r="2.9"/><circle cx="415.7" cy="317.7" r="2.9"/><circle cx="286.4" cy="317.3" r="2.9"/><circle cx="263.7" cy="317.9" r="2.9"/><circle cx="379.7" cy="314.1" r="2.9"/><circle cx="286.8" cy="318.0" r="2.9"/><circle cx="323.7" cy="319.5" r="2.9"/><circle cx="404.3" cy="318.5" r="2.9"/><circle cx="371.1" cy="317.8" r="2.9"/><circle cx="386.4" cy="318.1" r="2.9"/><circle cx="340.4" cy="320.3" r="2.9"/><circle cx="308.9" cy="314.9" r="2.9"/><circle cx="350.2" cy="320.1" r="2.9"/><circle cx="287.1" cy="316.6" r="2.9"/><circle cx="358.7" cy="316.4" r="2.9"/><circle cx="362.8" cy="319.1" r="2.9"/><circle cx="328.9" cy="320.0" r="2.9"/><circle cx="376.1" cy="317.4" r="2.9"/><circle cx="320.8" cy="317.1" r="2.9"/><circle cx="348.7" cy="320.2" r="2.9"/><circle cx="391.0" cy="315.6" r="2.9"/><circle cx="346.9" cy="320.5" r="2.9"/><circle cx="299.1" cy="316.4" r="2.9"/><circle cx="361.3" cy="316.2" r="2.9"/><circle cx="352.2" cy="319.9" r="2.9"/><circle cx="318.4" cy="317.5" r="2.9"/><circle cx="375.9" cy="313.8" r="2.9"/><circle cx="359.7" cy="317.0" r="2.9"/><circle cx="262.1" cy="317.7" r="2.9"/><circle cx="371.2" cy="318.6" r="2.9"/><circle cx="372.6" cy="318.0" r="2.9"/><circle cx="368.9" cy="314.9" r="2.9"/><circle cx="381.7" cy="318.3" r="2.9"/><circle cx="279.3" cy="314.3" r="2.9"/><circle cx="379.7" cy="318.7" r="2.9"/><circle cx="307.7" cy="316.5" r="2.9"/><circle cx="318.6" cy="317.9" r="2.9"/><circle cx="430.0" cy="316.0" r="2.9"/><circle cx="268.1" cy="317.5" r="2.9"/><circle cx="365.1" cy="316.4" r="2.9"/><circle cx="368.1" cy="319.9" r="2.9"/><circle cx="347.1" cy="320.4" r="2.9"/><circle cx="377.7" cy="314.5" r="2.9"/><circle cx="263.8" cy="316.8" r="2.9"/><circle cx="283.0" cy="314.5" r="2.9"/><circle cx="418.4" cy="313.6" r="2.9"/><circle cx="391.2" cy="318.0" r="2.9"/><circle cx="294.9" cy="318.3" r="2.9"/><circle cx="393.1" cy="317.3" r="2.9"/><circle cx="389.4" cy="319.2" r="2.9"/><circle cx="307.0" cy="318.2" r="2.9"/><circle cx="263.1" cy="316.7" r="2.9"/><circle cx="408.9" cy="315.2" r="2.9"/><circle cx="393.0" cy="318.7" r="2.9"/><circle cx="349.0" cy="320.2" r="2.9"/><circle cx="365.1" cy="318.0" r="2.9"/><circle cx="287.2" cy="315.9" r="2.9"/><circle cx="377.7" cy="316.2" r="2.9"/><circle cx="330.8" cy="320.0" r="2.9"/><circle cx="313.9" cy="319.7" r="2.9"/><circle cx="321.1" cy="319.9" r="2.9"/><circle cx="316.9" cy="319.3" r="2.9"/><circle cx="329.2" cy="318.2" r="2.9"/><circle cx="312.3" cy="315.6" r="2.9"/><circle cx="337.5" cy="320.2" r="2.9"/><circle cx="421.6" cy="317.5" r="2.9"/><circle cx="364.5" cy="319.1" r="2.9"/><circle cx="276.4" cy="317.7" r="2.9"/><circle cx="297.3" cy="319.2" r="2.9"/><circle cx="303.4" cy="317.9" r="2.9"/><circle cx="345.2" cy="320.5" r="2.9"/><circle cx="344.2" cy="320.5" r="2.9"/><circle cx="400.8" cy="316.8" r="2.9"/><circle cx="355.5" cy="319.4" r="2.9"/><circle cx="295.2" cy="315.1" r="2.9"/><circle cx="387.9" cy="317.0" r="2.9"/><circle cx="333.9" cy="318.2" r="2.9"/><circle cx="328.7" cy="318.2" r="2.9"/><circle cx="403.5" cy="316.9" r="2.9"/><circle cx="323.4" cy="314.2" r="2.9"/><circle cx="363.7" cy="318.7" r="2.9"/><circle cx="338.1" cy="320.2" r="2.9"/><circle cx="307.0" cy="315.2" r="2.9"/><circle cx="293.7" cy="314.4" r="2.9"/><circle cx="361.9" cy="316.9" r="2.9"/><circle cx="332.9" cy="320.2" r="2.9"/><circle cx="307.6" cy="317.7" r="2.9"/><circle cx="332.2" cy="317.5" r="2.9"/><circle cx="301.1" cy="315.5" r="2.9"/><circle cx="324.7" cy="319.5" r="2.9"/><circle cx="412.5" cy="317.6" r="2.9"/><circle cx="389.4" cy="319.5" r="2.9"/><circle cx="271.1" cy="317.4" r="2.9"/><circle cx="315.1" cy="318.5" r="2.9"/><circle cx="280.1" cy="315.3" r="2.9"/><circle cx="283.5" cy="314.9" r="2.9"/><circle cx="304.2" cy="317.9" r="2.9"/><circle cx="296.3" cy="319.1" r="2.9"/><circle cx="300.9" cy="318.9" r="2.9"/><circle cx="342.0" cy="320.4" r="2.9"/><circle cx="342.9" cy="320.5" r="2.9"/><circle cx="347.4" cy="320.4" r="2.9"/><circle cx="301.1" cy="318.1" r="2.9"/><circle cx="361.2" cy="319.5" r="2.9"/><circle cx="309.2" cy="315.0" r="2.9"/><circle cx="310.1" cy="316.0" r="2.9"/><circle cx="291.4" cy="315.8" r="2.9"/><circle cx="424.5" cy="318.1" r="2.9"/><circle cx="382.0" cy="316.5" r="2.9"/><circle cx="312.8" cy="315.3" r="2.9"/><circle cx="326.9" cy="320.1" r="2.9"/><circle cx="428.4" cy="314.8" r="2.9"/><circle cx="423.2" cy="316.9" r="2.9"/><circle cx="314.1" cy="314.2" r="2.9"/><circle cx="286.4" cy="318.3" r="2.9"/><circle cx="356.3" cy="318.8" r="2.9"/><circle cx="364.4" cy="314.7" r="2.9"/><circle cx="296.6" cy="314.6" r="2.9"/><circle cx="371.1" cy="315.3" r="2.9"/><circle cx="298.3" cy="318.0" r="2.9"/><circle cx="297.6" cy="318.1" r="2.9"/><circle cx="334.9" cy="318.4" r="2.9"/><circle cx="350.2" cy="320.4" r="2.9"/><circle cx="347.3" cy="320.4" r="2.9"/><circle cx="294.7" cy="316.1" r="2.9"/><circle cx="290.6" cy="317.2" r="2.9"/><circle cx="341.7" cy="320.3" r="2.9"/><circle cx="389.7" cy="318.1" r="2.9"/><circle cx="353.9" cy="319.6" r="2.9"/><circle cx="301.5" cy="314.7" r="2.9"/><circle cx="306.3" cy="314.3" r="2.9"/><circle cx="278.5" cy="315.0" r="2.9"/><circle cx="365.3" cy="318.1" r="2.9"/><circle cx="390.8" cy="314.2" r="2.9"/><circle cx="350.3" cy="320.0" r="2.9"/><circle cx="283.1" cy="314.8" r="2.9"/><circle cx="368.1" cy="314.5" r="2.9"/><circle cx="364.7" cy="314.6" r="2.9"/><circle cx="331.4" cy="319.6" r="2.9"/><circle cx="356.1" cy="320.1" r="2.9"/><circle cx="401.6" cy="314.9" r="2.9"/><circle cx="321.6" cy="319.9" r="2.9"/><circle cx="306.1" cy="317.7" r="2.9"/><circle cx="327.0" cy="314.5" r="2.9"/><circle cx="339.4" cy="319.8" r="2.9"/><circle cx="286.2" cy="318.0" r="2.9"/><circle cx="421.1" cy="316.6" r="2.9"/><circle cx="309.1" cy="315.7" r="2.9"/><circle cx="359.1" cy="318.6" r="2.9"/><circle cx="306.4" cy="316.5" r="2.9"/><circle cx="316.3" cy="314.8" r="2.9"/><circle cx="368.6" cy="316.9" r="2.9"/><circle cx="309.6" cy="317.1" r="2.9"/><circle cx="287.9" cy="314.8" r="2.9"/><circle cx="314.1" cy="315.8" r="2.9"/><circle cx="305.1" cy="317.2" r="2.9"/><circle cx="364.2" cy="314.8" r="2.9"/><circle cx="389.6" cy="316.9" r="2.9"/><circle cx="371.9" cy="315.5" r="2.9"/><circle cx="304.8" cy="317.0" r="2.9"/><circle cx="330.4" cy="315.9" r="2.9"/><circle cx="324.8" cy="315.5" r="2.9"/><circle cx="361.8" cy="315.9" r="2.9"/><circle cx="400.8" cy="313.9" r="2.9"/><circle cx="340.6" cy="320.1" r="2.9"/><circle cx="301.8" cy="318.2" r="2.9"/><circle cx="289.0" cy="315.9" r="2.9"/><circle cx="383.2" cy="318.8" r="2.9"/><circle cx="426.6" cy="317.5" r="2.9"/><circle cx="367.0" cy="319.8" r="2.9"/><circle cx="364.5" cy="318.7" r="2.9"/><circle cx="329.7" cy="317.6" r="2.9"/><circle cx="391.9" cy="315.9" r="2.9"/><circle cx="361.5" cy="316.3" r="2.9"/><circle cx="351.4" cy="319.7" r="2.9"/><circle cx="316.0" cy="317.5" r="2.9"/><circle cx="366.3" cy="319.6" r="2.9"/><circle cx="319.6" cy="319.0" r="2.9"/><circle cx="338.2" cy="319.5" r="2.9"/><circle cx="351.0" cy="320.2" r="2.9"/><circle cx="358.5" cy="318.4" r="2.9"/><circle cx="354.6" cy="319.2" r="2.9"/><circle cx="325.7" cy="316.2" r="2.9"/><circle cx="356.1" cy="318.7" r="2.9"/><circle cx="333.6" cy="319.2" r="2.9"/><circle cx="349.1" cy="320.3" r="2.9"/><circle cx="357.0" cy="317.8" r="2.9"/><circle cx="318.6" cy="319.0" r="2.9"/><circle cx="353.8" cy="320.2" r="2.9"/><circle cx="385.9" cy="319.6" r="2.9"/><circle cx="289.3" cy="316.7" r="2.9"/><circle cx="352.4" cy="319.5" r="2.9"/><circle cx="375.0" cy="315.8" r="2.9"/><circle cx="386.0" cy="315.4" r="2.9"/><circle cx="381.9" cy="316.6" r="2.9"/><circle cx="361.1" cy="318.2" r="2.9"/><circle cx="357.2" cy="318.9" r="2.9"/><circle cx="335.4" cy="318.8" r="2.9"/><circle cx="398.5" cy="314.1" r="2.9"/><circle cx="291.9" cy="318.4" r="2.9"/><circle cx="372.0" cy="313.9" r="2.9"/><circle cx="319.4" cy="316.2" r="2.9"/><circle cx="291.7" cy="314.6" r="2.9"/><circle cx="324.1" cy="316.4" r="2.9"/><circle cx="366.5" cy="316.4" r="2.9"/><circle cx="373.3" cy="313.8" r="2.9"/><circle cx="318.0" cy="318.9" r="2.9"/><circle cx="316.0" cy="319.7" r="2.9"/><circle cx="350.7" cy="319.9" r="2.9"/><circle cx="331.6" cy="317.4" r="2.9"/><circle cx="317.0" cy="316.9" r="2.9"/><circle cx="404.5" cy="314.5" r="2.9"/><circle cx="325.9" cy="320.0" r="2.9"/><circle cx="313.6" cy="314.8" r="2.9"/><circle cx="357.6" cy="318.3" r="2.9"/><circle cx="272.8" cy="317.7" r="2.9"/><circle cx="324.6" cy="315.2" r="2.9"/><circle cx="312.3" cy="314.3" r="2.9"/><circle cx="381.2" cy="314.5" r="2.9"/><circle cx="388.8" cy="315.2" r="2.9"/><circle cx="412.1" cy="315.8" r="2.9"/><circle cx="289.8" cy="317.8" r="2.9"/><circle cx="329.2" cy="316.2" r="2.9"/><circle cx="302.1" cy="314.8" r="2.9"/><circle cx="388.9" cy="319.0" r="2.9"/><circle cx="367.3" cy="315.1" r="2.9"/><circle cx="371.1" cy="319.2" r="2.9"/><circle cx="283.2" cy="316.8" r="2.9"/><circle cx="309.9" cy="316.3" r="2.9"/><circle cx="380.0" cy="315.5" r="2.9"/><circle cx="331.6" cy="317.2" r="2.9"/><circle cx="381.0" cy="317.0" r="2.9"/><circle cx="326.4" cy="315.9" r="2.9"/><circle cx="272.9" cy="315.1" r="2.9"/><circle cx="283.8" cy="315.5" r="2.9"/><circle cx="334.0" cy="319.8" r="2.9"/><circle cx="284.9" cy="314.2" r="2.9"/><circle cx="384.0" cy="315.7" r="2.9"/><circle cx="335.7" cy="319.8" r="2.9"/><circle cx="306.0" cy="316.1" r="2.9"/><circle cx="374.8" cy="314.2" r="2.9"/><circle cx="390.0" cy="313.7" r="2.9"/><circle cx="290.3" cy="315.7" r="2.9"/><circle cx="329.9" cy="317.0" r="2.9"/><circle cx="376.5" cy="318.9" r="2.9"/><circle cx="364.2" cy="315.2" r="2.9"/><circle cx="339.7" cy="320.1" r="2.9"/><circle cx="401.5" cy="313.7" r="2.9"/><circle cx="281.1" cy="315.1" r="2.9"/><circle cx="332.2" cy="319.7" r="2.9"/><circle cx="311.9" cy="319.5" r="2.9"/><circle cx="337.7" cy="320.1" r="2.9"/><circle cx="374.7" cy="313.8" r="2.9"/><circle cx="387.4" cy="316.7" r="2.9"/><circle cx="429.0" cy="316.9" r="2.9"/><circle cx="359.9" cy="318.5" r="2.9"/><circle cx="359.5" cy="316.1" r="2.9"/><circle cx="325.8" cy="315.3" r="2.9"/><circle cx="317.2" cy="318.2" r="2.9"/><circle cx="382.3" cy="315.0" r="2.9"/><circle cx="354.3" cy="320.2" r="2.9"/><circle cx="324.6" cy="319.4" r="2.9"/><circle cx="286.7" cy="315.8" r="2.9"/><circle cx="398.7" cy="317.4" r="2.9"/><circle cx="369.4" cy="318.5" r="2.9"/><circle cx="411.4" cy="315.0" r="2.9"/><circle cx="326.2" cy="314.5" r="2.9"/><circle cx="311.8" cy="318.1" r="2.9"/><circle cx="342.1" cy="320.4" r="2.9"/><circle cx="345.8" cy="320.5" r="2.9"/><circle cx="274.0" cy="318.5" r="2.9"/><circle cx="396.8" cy="317.7" r="2.9"/><circle cx="280.7" cy="316.2" r="2.9"/><circle cx="295.4" cy="314.1" r="2.9"/><circle cx="374.6" cy="317.7" r="2.9"/><circle cx="306.5" cy="314.9" r="2.9"/><circle cx="294.6" cy="318.7" r="2.9"/><circle cx="395.4" cy="314.6" r="2.9"/><circle cx="327.7" cy="316.3" r="2.9"/><circle cx="374.7" cy="318.0" r="2.9"/><circle cx="350.5" cy="319.9" r="2.9"/><circle cx="315.2" cy="314.6" r="2.9"/><circle cx="385.5" cy="316.2" r="2.9"/><circle cx="436.5" cy="313.7" r="2.9"/><circle cx="340.5" cy="320.3" r="2.9"/><circle cx="338.0" cy="320.1" r="2.9"/><circle cx="354.1" cy="319.2" r="2.9"/><circle cx="340.4" cy="320.4" r="2.9"/><circle cx="314.5" cy="317.4" r="2.9"/><circle cx="324.0" cy="314.6" r="2.9"/><circle cx="319.6" cy="319.8" r="2.9"/><circle cx="373.2" cy="313.9" r="2.9"/><circle cx="383.4" cy="315.4" r="2.9"/><circle cx="364.4" cy="316.7" r="2.9"/><circle cx="378.2" cy="315.7" r="2.9"/><circle cx="421.2" cy="314.4" r="2.9"/><circle cx="383.8" cy="314.0" r="2.9"/><circle cx="380.5" cy="317.2" r="2.9"/><circle cx="336.4" cy="319.7" r="2.9"/><circle cx="332.7" cy="317.8" r="2.9"/><circle cx="281.3" cy="315.3" r="2.9"/><circle cx="278.2" cy="315.3" r="2.9"/><circle cx="349.6" cy="320.1" r="2.9"/><circle cx="364.7" cy="316.9" r="2.9"/><circle cx="367.5" cy="316.2" r="2.9"/><circle cx="274.3" cy="318.0" r="2.9"/><circle cx="360.7" cy="318.9" r="2.9"/><circle cx="391.6" cy="318.5" r="2.9"/><circle cx="331.9" cy="320.1" r="2.9"/><circle cx="362.9" cy="314.4" r="2.9"/><circle cx="401.5" cy="314.9" r="2.9"/><circle cx="328.4" cy="317.9" r="2.9"/><circle cx="299.6" cy="318.0" r="2.9"/><circle cx="338.1" cy="320.0" r="2.9"/><circle cx="291.4" cy="315.9" r="2.9"/><circle cx="410.4" cy="315.5" r="2.9"/><circle cx="391.6" cy="317.2" r="2.9"/><circle cx="279.0" cy="317.9" r="2.9"/><circle cx="383.2" cy="314.7" r="2.9"/><circle cx="341.9" cy="320.4" r="2.9"/><circle cx="281.6" cy="314.6" r="2.9"/><circle cx="405.9" cy="316.6" r="2.9"/><circle cx="313.5" cy="316.3" r="2.9"/><circle cx="287.1" cy="316.8" r="2.9"/><circle cx="385.8" cy="319.4" r="2.9"/><circle cx="288.3" cy="318.6" r="2.9"/><circle cx="405.9" cy="314.5" r="2.9"/><circle cx="332.1" cy="317.4" r="2.9"/><circle cx="274.7" cy="315.1" r="2.9"/><circle cx="268.9" cy="315.6" r="2.9"/><circle cx="345.7" cy="320.5" r="2.9"/><circle cx="325.0" cy="317.6" r="2.9"/><circle cx="321.4" cy="316.8" r="2.9"/><circle cx="439.5" cy="314.1" r="2.9"/><circle cx="382.4" cy="315.2" r="2.9"/><circle cx="351.5" cy="320.0" r="2.9"/><circle cx="356.6" cy="320.3" r="2.9"/><circle cx="375.9" cy="315.3" r="2.9"/><circle cx="316.0" cy="318.4" r="2.9"/><circle cx="353.1" cy="319.5" r="2.9"/><circle cx="360.7" cy="315.3" r="2.9"/><circle cx="322.0" cy="320.0" r="2.9"/><circle cx="348.1" cy="320.3" r="2.9"/><circle cx="303.5" cy="314.9" r="2.9"/><circle cx="343.0" cy="320.5" r="2.9"/><circle cx="315.7" cy="314.5" r="2.9"/><circle cx="315.6" cy="318.3" r="2.9"/><circle cx="360.8" cy="316.7" r="2.9"/><circle cx="275.5" cy="316.7" r="2.9"/><circle cx="418.2" cy="315.9" r="2.9"/><circle cx="307.6" cy="315.0" r="2.9"/><circle cx="309.5" cy="315.3" r="2.9"/><circle cx="333.3" cy="319.2" r="2.9"/><circle cx="296.6" cy="319.3" r="2.9"/><circle cx="369.8" cy="318.8" r="2.9"/><circle cx="285.7" cy="316.8" r="2.9"/><circle cx="320.1" cy="317.9" r="2.9"/><circle cx="334.4" cy="318.8" r="2.9"/><circle cx="321.5" cy="317.7" r="2.9"/><circle cx="307.5" cy="314.2" r="2.9"/><circle cx="439.7" cy="316.0" r="2.9"/><circle cx="392.1" cy="314.1" r="2.9"/><circle cx="289.3" cy="318.1" r="2.9"/><circle cx="337.6" cy="319.9" r="2.9"/><circle cx="361.5" cy="317.9" r="2.9"/><circle cx="320.9" cy="315.6" r="2.9"/><circle cx="401.5" cy="317.9" r="2.9"/><circle cx="311.4" cy="319.5" r="2.9"/><circle cx="284.9" cy="316.5" r="2.9"/><circle cx="379.6" cy="315.8" r="2.9"/><circle cx="397.9" cy="313.7" r="2.9"/><circle cx="285.3" cy="316.6" r="2.9"/><circle cx="361.5" cy="319.8" r="2.9"/><circle cx="327.2" cy="315.2" r="2.9"/><circle cx="290.3" cy="318.1" r="2.9"/><circle cx="304.9" cy="316.9" r="2.9"/><circle cx="376.1" cy="318.6" r="2.9"/><circle cx="344.3" cy="320.5" r="2.9"/><circle cx="280.5" cy="314.4" r="2.9"/><circle cx="377.8" cy="319.0" r="2.9"/><circle cx="335.2" cy="320.2" r="2.9"/><circle cx="374.5" cy="315.1" r="2.9"/><circle cx="308.5" cy="315.4" r="2.9"/><circle cx="297.8" cy="317.6" r="2.9"/><circle cx="315.0" cy="315.4" r="2.9"/><circle cx="364.1" cy="319.2" r="2.9"/><circle cx="312.1" cy="316.9" r="2.9"/><circle cx="384.6" cy="316.3" r="2.9"/><circle cx="365.8" cy="314.9" r="2.9"/><circle cx="294.0" cy="319.4" r="2.9"/><circle cx="314.9" cy="314.7" r="2.9"/><circle cx="437.4" cy="317.2" r="2.9"/><circle cx="288.3" cy="314.6" r="2.9"/><circle cx="291.5" cy="314.6" r="2.9"/><circle cx="322.5" cy="318.4" r="2.9"/><circle cx="302.9" cy="314.7" r="2.9"/><circle cx="318.3" cy="314.8" r="2.9"/><circle cx="349.2" cy="320.2" r="2.9"/><circle cx="293.4" cy="314.9" r="2.9"/><circle cx="394.6" cy="314.2" r="2.9"/><circle cx="325.0" cy="319.6" r="2.9"/><circle cx="324.2" cy="319.9" r="2.9"/><circle cx="310.4" cy="315.6" r="2.9"/><circle cx="273.5" cy="316.4" r="2.9"/><circle cx="334.9" cy="319.0" r="2.9"/><circle cx="379.2" cy="317.0" r="2.9"/><circle cx="333.3" cy="318.7" r="2.9"/><circle cx="330.8" cy="316.7" r="2.9"/><circle cx="441.7" cy="315.9" r="2.9"/><circle cx="371.6" cy="315.1" r="2.9"/><circle cx="296.9" cy="318.7" r="2.9"/><circle cx="319.7" cy="317.3" r="2.9"/><circle cx="318.1" cy="314.1" r="2.9"/><circle cx="353.3" cy="320.3" r="2.9"/><circle cx="303.4" cy="318.2" r="2.9"/><circle cx="329.6" cy="317.2" r="2.9"/><circle cx="356.3" cy="319.4" r="2.9"/><circle cx="319.3" cy="317.3" r="2.9"/><circle cx="301.4" cy="315.6" r="2.9"/><circle cx="391.6" cy="316.4" r="2.9"/><circle cx="301.0" cy="319.2" r="2.9"/><circle cx="356.7" cy="318.9" r="2.9"/><circle cx="292.2" cy="316.5" r="2.9"/><circle cx="376.9" cy="319.2" r="2.9"/><circle cx="418.1" cy="315.4" r="2.9"/><circle cx="283.3" cy="315.3" r="2.9"/><circle cx="279.6" cy="317.9" r="2.9"/><circle cx="355.4" cy="318.3" r="2.9"/><circle cx="332.6" cy="319.3" r="2.9"/><circle cx="342.3" cy="320.4" r="2.9"/><circle cx="398.3" cy="317.5" r="2.9"/><circle cx="327.4" cy="315.5" r="2.9"/><circle cx="328.1" cy="316.5" r="2.9"/><circle cx="264.2" cy="316.4" r="2.9"/><circle cx="271.4" cy="317.2" r="2.9"/><circle cx="310.7" cy="315.5" r="2.9"/><circle cx="412.0" cy="316.8" r="2.9"/><circle cx="337.6" cy="320.0" r="2.9"/><circle cx="328.3" cy="317.0" r="2.9"/><circle cx="327.5" cy="315.9" r="2.9"/><circle cx="334.8" cy="319.9" r="2.9"/><circle cx="324.8" cy="317.6" r="2.9"/><circle cx="328.4" cy="316.4" r="2.9"/><circle cx="329.7" cy="317.8" r="2.9"/><circle cx="344.7" cy="320.5" r="2.9"/><circle cx="336.1" cy="320.2" r="2.9"/><circle cx="340.6" cy="320.3" r="2.9"/><circle cx="395.0" cy="313.7" r="2.9"/><circle cx="384.1" cy="318.3" r="2.9"/><circle cx="400.3" cy="314.8" r="2.9"/><circle cx="279.4" cy="317.7" r="2.9"/><circle cx="363.2" cy="318.0" r="2.9"/><circle cx="389.7" cy="313.8" r="2.9"/><circle cx="386.1" cy="317.1" r="2.9"/><circle cx="321.5" cy="314.1" r="2.9"/><circle cx="308.5" cy="315.5" r="2.9"/><circle cx="353.5" cy="319.0" r="2.9"/><circle cx="316.1" cy="318.8" r="2.9"/><circle cx="297.6" cy="317.0" r="2.9"/><circle cx="328.7" cy="317.4" r="2.9"/><circle cx="366.7" cy="318.8" r="2.9"/><circle cx="297.2" cy="317.1" r="2.9"/><circle cx="357.5" cy="318.8" r="2.9"/><circle cx="319.6" cy="318.8" r="2.9"/><circle cx="313.8" cy="318.7" r="2.9"/><circle cx="368.2" cy="319.6" r="2.9"/><circle cx="341.5" cy="320.3" r="2.9"/><circle cx="339.5" cy="319.9" r="2.9"/><circle cx="417.1" cy="316.5" r="2.9"/><circle cx="293.6" cy="317.1" r="2.9"/><circle cx="383.0" cy="315.3" r="2.9"/><circle cx="299.2" cy="314.9" r="2.9"/><circle cx="279.3" cy="317.8" r="2.9"/><circle cx="380.3" cy="319.2" r="2.9"/><circle cx="385.2" cy="313.9" r="2.9"/><circle cx="386.9" cy="318.7" r="2.9"/><circle cx="314.1" cy="317.5" r="2.9"/><circle cx="318.7" cy="315.0" r="2.9"/><circle cx="331.9" cy="318.1" r="2.9"/><circle cx="241.8" cy="314.0" r="2.9"/><circle cx="443.8" cy="317.3" r="2.9"/><circle cx="455.7" cy="316.4" r="2.9"/><circle cx="454.5" cy="315.6" r="2.9"/><circle cx="437.8" cy="313.4" r="2.9"/><circle cx="432.8" cy="315.9" r="2.9"/><circle cx="429.8" cy="316.9" r="2.9"/></g>
<g fill="#22e622"><circle cx="448.4" cy="221.4" r="3.0"/><circle cx="449.2" cy="262.6" r="3.0"/><circle cx="604.5" cy="214.6" r="3.0"/><circle cx="592.0" cy="257.8" r="3.0"/><circle cx="546.2" cy="261.2" r="3.0"/><circle cx="514.7" cy="271.6" r="3.0"/><circle cx="566.6" cy="277.8" r="3.0"/><circle cx="565.0" cy="282.6" r="3.0"/><circle cx="554.0" cy="281.6" r="3.0"/><circle cx="538.0" cy="287.4" r="3.0"/><circle cx="539.8" cy="295.0" r="3.0"/><circle cx="530.0" cy="299.6" r="3.0"/><circle cx="556.8" cy="301.6" r="3.0"/><circle cx="540.8" cy="304.6" r="3.0"/><circle cx="517.7" cy="309.9" r="3.0"/><circle cx="495.0" cy="303.9" r="3.0"/><circle cx="485.6" cy="311.8" r="3.0"/><circle cx="614.4" cy="146.6" r="3.0"/></g>
<g fill="#ff00ff"><circle cx="440.6" cy="261.7" r="3.0"/><circle cx="421.9" cy="282.8" r="3.0"/><circle cx="465.7" cy="270.9" r="3.0"/><circle cx="462.7" cy="283.8" r="3.0"/><circle cx="409.3" cy="289.2" r="3.0"/><circle cx="403.0" cy="303.5" r="3.0"/><circle cx="420.4" cy="310.9" r="3.0"/><circle cx="445.3" cy="302.9" r="3.0"/><circle cx="465.2" cy="294.5" r="3.0"/><circle cx="399.0" cy="310.9" r="3.0"/><circle cx="398.2" cy="309.8" r="3.0"/><circle cx="490.2" cy="199.6" r="3.0"/><circle cx="491.8" cy="224.6" r="3.0"/><circle cx="501.4" cy="226.8" r="3.0"/><circle cx="484.4" cy="248.5" r="3.0"/><circle cx="487.4" cy="250.4" r="3.0"/><circle cx="494.0" cy="252.4" r="3.0"/><circle cx="484.4" cy="263.2" r="3.0"/><circle cx="476.4" cy="266.9" r="3.0"/><circle cx="476.1" cy="275.8" r="3.0"/><circle cx="466.0" cy="271.3" r="3.0"/><circle cx="490.3" cy="269.4" r="3.0"/><circle cx="486.4" cy="272.3" r="3.0"/><circle cx="497.6" cy="268.9" r="3.0"/><circle cx="497.6" cy="272.3" r="3.0"/><circle cx="505.3" cy="271.3" r="3.0"/><circle cx="464.0" cy="284.0" r="3.0"/><circle cx="461.0" cy="283.5" r="3.0"/><circle cx="465.0" cy="294.2" r="3.0"/><circle cx="488.9" cy="289.7" r="3.0"/></g>
<g fill="#0000ff"><circle cx="440.6" cy="242.2" r="3.0"/><circle cx="426.2" cy="266.4" r="3.0"/><circle cx="439.3" cy="266.4" r="3.0"/><circle cx="427.6" cy="278.3" r="3.0"/><circle cx="461.2" cy="278.8" r="3.0"/><circle cx="465.7" cy="276.3" r="3.0"/><circle cx="404.1" cy="289.2" r="3.0"/><circle cx="417.9" cy="293.5" r="3.0"/><circle cx="406.8" cy="305.2" r="3.0"/><circle cx="422.6" cy="310.9" r="3.0"/><circle cx="443.6" cy="301.4" r="3.0"/><circle cx="452.4" cy="303.6" r="3.0"/><circle cx="456.7" cy="297.0" r="3.0"/><circle cx="460.2" cy="289.5" r="3.0"/><circle cx="395.6" cy="307.6" r="3.0"/><circle cx="396.1" cy="311.3" r="3.0"/><circle cx="489.2" cy="206.8" r="3.0"/><circle cx="491.8" cy="218.6" r="3.0"/><circle cx="507.4" cy="222.6" r="3.0"/><circle cx="488.6" cy="235.8" r="3.0"/><circle cx="482.4" cy="239.2" r="3.0"/><circle cx="515.6" cy="248.4" r="3.0"/><circle cx="490.3" cy="254.4" r="3.0"/><circle cx="494.8" cy="254.9" r="3.0"/><circle cx="492.3" cy="257.9" r="3.0"/><circle cx="488.9" cy="259.4" r="3.0"/><circle cx="499.8" cy="261.1" r="3.0"/><circle cx="500.6" cy="263.4" r="3.0"/><circle cx="469.2" cy="260.4" r="3.0"/><circle cx="478.9" cy="270.3" r="3.0"/><circle cx="475.4" cy="272.0" r="3.0"/><circle cx="465.5" cy="275.8" r="3.0"/><circle cx="462.0" cy="278.3" r="3.0"/><circle cx="467.5" cy="279.3" r="3.0"/><circle cx="492.1" cy="274.1" r="3.0"/><circle cx="486.1" cy="277.6" r="3.0"/><circle cx="502.8" cy="269.4" r="3.0"/><circle cx="506.0" cy="275.0" r="3.0"/><circle cx="469.5" cy="282.8" r="3.0"/><circle cx="460.5" cy="289.5" r="3.0"/><circle cx="475.4" cy="298.9" r="3.0"/><circle cx="490.3" cy="291.2" r="3.0"/></g>
<g fill="#22e622"><circle cx="439.3" cy="269.1" r="3.0"/></g>
<g stroke="#000" stroke-width="1.2" fill="none">
<path d="M55.7 0.4 H683.1 V330.4 H55.7 Z"/>
<path d="M344.9 0.4 V330.4" stroke-opacity="0.85"/>
<path d="M48.2 10.4 H55.7"/>
<path d="M48.2 41.1 H55.7"/>
<path d="M48.2 72.1 H55.7"/>
<path d="M48.2 103.1 H55.7"/>
<path d="M48.2 134.9 H55.7"/>
<path d="M48.2 165.3 H55.7"/>
<path d="M48.2 195.8 H55.7"/>
<path d="M48.2 227.6 H55.7"/>
<path d="M48.2 258.2 H55.7"/>
<path d="M48.2 289.9 H55.7"/>
<path d="M48.2 320.5 H55.7"/>
<path d="M65.4 330.4 V337.4"/>
<path d="M111.8 330.4 V337.4"/>
<path d="M159.3 330.4 V337.4"/>
<path d="M205.5 330.4 V337.4"/>
<path d="M252.2 330.4 V337.4"/>
<path d="M299.4 330.4 V337.4"/>
<path d="M344.9 330.4 V337.4"/>
<path d="M392.6 330.4 V337.4"/>
<path d="M438.9 330.4 V337.4"/>
<path d="M486.5 330.4 V337.4"/>
<path d="M532.8 330.4 V337.4"/>
<path d="M579.4 330.4 V337.4"/>
<path d="M626.4 330.4 V337.4"/>
</g>
<text class="t" x="42.6" y="14.8" text-anchor="end">110</text>
<text class="t" x="42.6" y="44.4" text-anchor="end">99</text>
<text class="t" x="42.6" y="75.5" text-anchor="end">88</text>
<text class="t" x="42.6" y="105.8" text-anchor="end">77</text>
<text class="t" x="42.6" y="138.5" text-anchor="end">66</text>
<text class="t" x="42.6" y="168.4" text-anchor="end">55</text>
<text class="t" x="42.6" y="198.6" text-anchor="end">44</text>
<text class="t" x="42.6" y="231.4" text-anchor="end">33</text>
<text class="t" x="42.6" y="262.6" text-anchor="end">22</text>
<text class="t" x="42.6" y="292.2" text-anchor="end">11</text>
<text class="t" x="42.6" y="324.1" text-anchor="end">0</text>
<text class="t" x="64.9" y="352.8" text-anchor="middle">–3.6</text>
<text class="t" x="108.0" y="352.8" text-anchor="middle">–3.0</text>
<text class="t" x="155.9" y="352.8" text-anchor="middle">–2.4</text>
<text class="t" x="202.7" y="352.8" text-anchor="middle">–1.8</text>
<text class="t" x="250.3" y="352.8" text-anchor="middle">–1.2</text>
<text class="t" x="296.4" y="352.8" text-anchor="middle">–0.6</text>
<text class="t" x="345.6" y="352.8" text-anchor="middle">0.0</text>
<text class="t" x="393.6" y="352.8" text-anchor="middle">0.6</text>
<text class="t" x="440.3" y="352.8" text-anchor="middle">1.2</text>
<text class="t" x="487.6" y="352.8" text-anchor="middle">1.8</text>
<text class="t" x="533.9" y="352.8" text-anchor="middle">2.4</text>
<text class="t" x="580.0" y="352.8" text-anchor="middle">3.0</text>
<text class="t" x="627.2" y="352.8" text-anchor="middle">3.6</text>
<text class="ax" x="298.3" y="372">Log<tspan font-size="8.8" dy="3.8">2</tspan><tspan dy="-3.8"> ratio (fold change)</tspan></text>
<text class="ax" style="font-size:13.12px" transform="translate(10.2,304.0) rotate(-90)">Absolute confidence (–Log<tspan font-size="8.8" dy="3.8">10</tspan><tspan dy="-3.8"> adjusted </tspan><tspan font-style="italic">P</tspan>-value)</text>
<text class="an" x="619.6" y="150" font-style="italic">vapE</text>
<text class="an" x="620.4" y="308.1"><tspan font-style="italic">p</tspan> = 0.001</text>
<rect x="54.5" y="388.5" width="630" height="23.2" fill="#f9f9f9" stroke="#a6a6a6" stroke-width="1"/>
<circle cx="72.1" cy="400.5" r="3.1" fill="#ff00ff"/>
<text class="lg" x="80.6" y="404.1">Full-length prophage 1</text>
<circle cx="213.2" cy="400.5" r="3.1" fill="#0000ff"/>
<text class="lg" x="221.7" y="404.1">Full-length prophage 2</text>
<circle cx="355.5" cy="400.5" r="3.1" fill="#74ec74"/>
<text class="lg" x="364.0" y="404.1">Satellite prophage</text>
<circle cx="477.5" cy="400.5" r="3.1" fill="#bebebe"/>
<text class="lg" x="486.0" y="404.1">Others</text>
<circle cx="539.0" cy="400.5" r="3.1" fill="#f0b060"/>
<text class="lg" x="547.5" y="404.1">Not statistically significant</text>
</svg></body></html>
